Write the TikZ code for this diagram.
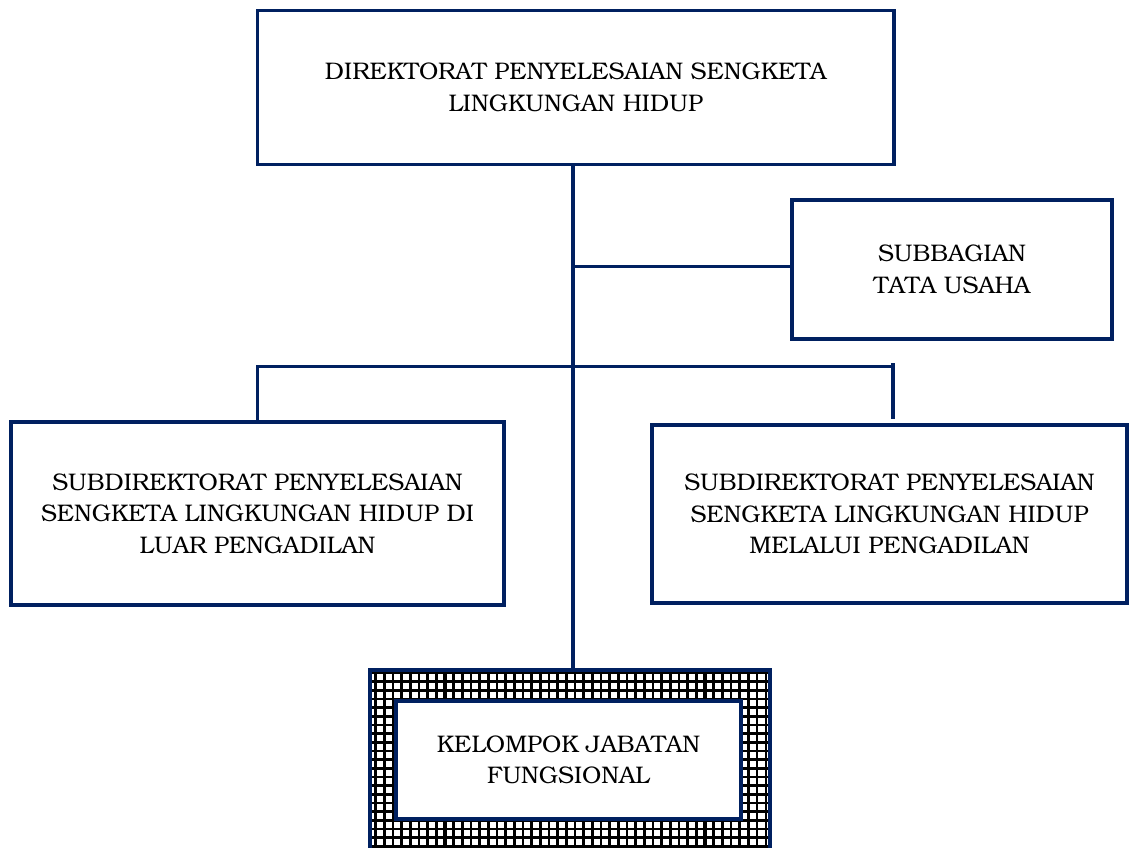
\documentclass[tikz,border=0pt]{standalone}
\usepackage[T1]{fontenc}
\usepackage{bookman}
\definecolor{navy}{RGB}{0,32,96}
\tikzset{
  box/.style={draw=navy, line width=3.5pt, fill=white, inner sep=0pt, align=center, font=\fontsize{24}{31.5}\selectfont},
  conn/.style={draw=navy, line width=3.2pt},
  gridline/.style={draw=black, line width=2.6pt},
  gridthick/.style={draw=black, line width=3.4pt}
}
\begin{document}
\begin{tikzpicture}[x=1pt,y=-1pt]
\useasboundingbox[fill=white] (0,0) rectangle (1129,847);
% patterned bottom box
\begin{scope}
  \clip (370,670) rectangle (770,880);
  \foreach \i in {-9,...,38} {
    \pgfmathtruncatemacro{\m}{mod(\i+20,10)}
    \ifnum\m=0
      \draw[gridthick] ({445+\i*8.67},660) -- ({445+\i*8.67},880);
    \else
      \draw[gridline] ({445+\i*8.67},660) -- ({445+\i*8.67},880);
    \fi
  }
  \foreach \j in {0,...,22} {
    \draw[gridline] (360,{673+\j*8.67}) -- (780,{673+\j*8.67});
  }
\end{scope}
\draw[conn, line width=3.5pt] (370,900) -- (370,670) -- (770,670) -- (770,900);
\coordinate (kjtop) at (573,670);

\node[box, minimum width=636.5pt, minimum height=154pt] (dir) at (575.75,87.5)
  {DIREKTORAT PENYELESAIAN SENGKETA\\LINGKUNGAN HIDUP};
\node[box, minimum width=320pt, minimum height=139pt] (tu) at (952,269.5)
  {SUBBAGIAN\\TATA USAHA};
\node[box, minimum width=493pt, minimum height=183pt] (sdl) at (257.5,513.5)
  {SUBDIREKTORAT PENYELESAIAN\\SENGKETA LINGKUNGAN HIDUP DI\\LUAR PENGADILAN};
\node[box, minimum width=475pt, minimum height=178pt] (sdp) at (889.5,514)
  {SUBDIREKTORAT PENYELESAIAN\\SENGKETA LINGKUNGAN HIDUP\\MELALUI PENGADILAN};
\node[box, minimum width=345pt, minimum height=118pt] (kj) at (568.5,760)
  {KELOMPOK JABATAN\\FUNGSIONAL};

\coordinate (trunktop) at (dir.south -| kjtop);
\coordinate (tujoin) at (573,266.7);
\coordinate (barL) at (257.5,366.5);
\coordinate (barM) at (573,366.5);
\coordinate (barR) at (893,366.5);
\coordinate (rtop) at (893,363);
\coordinate (rbot) at (893,419);

\draw[conn] (trunktop) -- (kjtop);
\draw[conn] (tujoin) -- (tujoin -| tu.west);
\draw[conn] (sdl.north -| barL) -- (barL) -- (barR);
\draw[conn] (rtop) -- (rbot);
\end{tikzpicture}
\end{document}
